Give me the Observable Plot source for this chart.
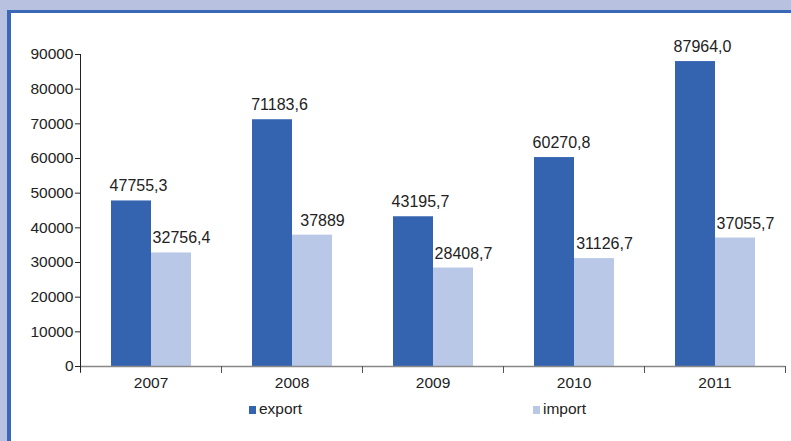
<!DOCTYPE html>
<html>
<head>
<meta charset="utf-8">
<script src="https://cdn.jsdelivr.net/npm/d3@7"></script>
<script src="https://cdn.jsdelivr.net/npm/@observablehq/plot@0.6"></script>
<style>
  html, body { margin: 0; padding: 0; }
  body { width: 791px; height: 441px; background: #b9c1e0; position: relative; overflow: hidden;
         font-family: "Liberation Sans", Arial, sans-serif; color: #222; }
  #frame { position: absolute; left: 7px; top: 9.5px; width: 800px; height: 450px; background: #fff;
           border-top: 3.5px solid #3a68b6; border-left: 4px solid #3a68b6; }
  #chart { position: absolute; left: 0; top: 0; }
  #chart svg g[aria-label*="tick label"], #chart svg g[aria-label*="tick label"] text {
    font-size: 15.5px !important; font-family: "Liberation Sans", Arial, sans-serif !important; }
  .lg { position: absolute; font-size: 15.5px; line-height: 16px; white-space: nowrap; }
  .sw { position: absolute; width: 7px; height: 8px; }
</style>
</head>
<body>
<div id="frame"></div>
<div id="chart"></div>
<div class="sw" style="left:249px; top:406px; background:#3464b0"></div>
<div class="lg" style="left:259px; top:400.5px">export</div>
<div class="sw" style="left:533px; top:406px; background:#b9c8e6"></div>
<div class="lg" style="left:543px; top:400.5px">import</div>
<script>
const years = ["2007", "2008", "2009", "2010", "2011"];
const series = ["export", "import"];
const exportValues = [47755.3, 71183.6, 43195.7, 60270.8, 87964.0];
const importValues = [32756.4, 37889, 28408.7, 31126.7, 37055.7];
const exportLabels = ["47755,3", "71183,6", "43195,7", "60270,8", "87964,0"];
const importLabels = ["32756,4", "37889", "28408,7", "31126,7", "37055,7"];
const yTicks = [0, 10000, 20000, 30000, 40000, 50000, 60000, 70000, 80000, 90000];
const colors = ["#3464b0", "#b9c8e6"];

const exportRows = years.map((year, i) => ({year, series: "export", value: exportValues[i], label: exportLabels[i]}));
const importRows = years.map((year, i) => ({year, series: "import", value: importValues[i], label: importLabels[i]}));
const rows = exportRows.concat(importRows);

const chart = Plot.plot({
  width: 791,
  height: 400,
  marginTop: 54,
  marginBottom: 34,
  marginLeft: 80,
  marginRight: 6,
  style: {fontFamily: "'Liberation Sans', Arial, sans-serif", fontSize: "15.5px", color: "#222", background: "transparent", overflow: "visible"},
  fx: {domain: years, padding: 0, label: null},
  x: {domain: series, paddingInner: 0, paddingOuter: 0.747, axis: null},
  y: {domain: [0, 90000], axis: null, label: null},
  color: {domain: series, range: colors},
  marks: [
    Plot.barY(rows, {fx: "year", x: "series", y: "value", fill: "series"}),
    Plot.text(exportRows, {fx: "year", x: "series", y: "value", text: "label", lineAnchor: "bottom", dy: -9.5, dx: 7, fontSize: 16, fill: "#222"}),
    Plot.text(importRows, {fx: "year", x: "series", y: "value", text: "label", lineAnchor: "bottom", dy: -9.5, dx: 10, fontSize: 16, fill: "#222"}),
    Plot.ruleY([0], {stroke: "#888", strokeWidth: 1.5}),
    Plot.frame({anchor: "left", insetTop: 312, insetBottom: -6, stroke: "#555"}),
    Plot.frame({anchor: "right", insetTop: 312, insetBottom: -6, stroke: "#555"}),
    Plot.frame({anchor: "left", facet: "super", insetBottom: -5, stroke: "#222"}),
    Plot.axisY({ticks: yTicks, tickFormat: d => String(d), tickSize: 5, tickPadding: 2, label: null, fontSize: 15.5}),
    Plot.axisFx({anchor: "bottom", tickSize: 0, tickPadding: 10, label: null, fontSize: 15.5})
  ]
});
document.getElementById("chart").appendChild(chart);
</script>
</body>
</html>
